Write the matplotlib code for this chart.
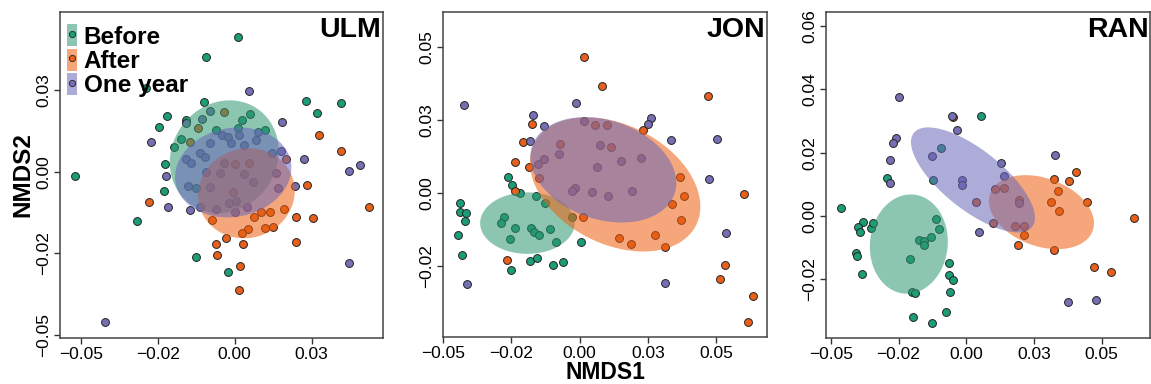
import numpy as np
import matplotlib
matplotlib.use("Agg")
import matplotlib.pyplot as plt
from matplotlib.patches import Patch, Polygon
from matplotlib.lines import Line2D
from matplotlib.legend_handler import HandlerTuple

plt.rcParams['font.family'] = ['Liberation Sans', 'DejaVu Sans']

groups = ["Before", "After", "One year"]
point_colors = ["#1B9E77", "#E8601C", "#7570B3"]
fill_colors = ["#2E9872", "#EE5F0F", "#6A66B8"]

# ---------------- ULM ----------------
ulm_before_x = [0.0011, -0.0092, -0.0290, -0.0101, -0.0220, -0.0246, -0.0159, 0.0024, 0.0049, 0.0097,
                -0.0174, -0.0198, -0.0227, -0.0229, -0.0319, -0.0127, -0.0021, -0.0519, 0.0231, 0.0346,
                0.0267, -0.0062, 0.0012, -0.0127]
ulm_before_y = [0.0413, 0.0352, 0.0258, 0.0214, 0.0170, 0.0138, 0.0160, 0.0160, 0.0177, 0.0128,
                0.0101, 0.0077, 0.0023, -0.0059, -0.0151, -0.0262, -0.0309, -0.0013, 0.0217, 0.0211,
                0.0179, 0.0128, 0.0135, -0.0049]
ulm_after_x = [0.0274, 0.0346, 0.0436, 0.0236, 0.0254, 0.0200, 0.0200, 0.0159, 0.0116, 0.0084,
               0.0062, 0.0097, 0.0124, 0.0043, 0.0024, 0.0027, -0.0027, -0.0062, -0.0057, 0.0018,
               0.0014, -0.0278, -0.0075, 0.0168, -0.0035, -0.0119, -0.0146, 0.0000, 0.0047, -0.0005]
ulm_after_y = [0.0112, 0.0064, -0.0107, -0.0042, -0.0141, -0.0139, -0.0217, -0.0115, -0.0122, -0.0124,
               -0.0138, -0.0173, -0.0170, -0.0177, -0.0187, -0.0221, -0.0203, -0.0221, -0.0255, -0.0288,
               -0.0364, -0.0093, -0.0148, 0.0038, 0.0183, 0.0135, 0.0092, 0.0023, 0.0026, -0.0061]
ulm_year_x = [0.0047, 0.0155, -0.0271, -0.0222, -0.0216, -0.0144, -0.0114, 0.0224, 0.0371, 0.0408,
              0.0371, 0.0197, -0.0422, 0.0152, 0.0135, 0.0142, -0.0081, -0.0105, -0.0157, -0.0043,
              -0.0022, -0.0013, 0.0014, 0.0029, 0.0068, 0.0076, 0.0121, -0.0114, -0.0097, -0.0157,
              -0.0142, -0.0152, -0.0081, -0.0036, -0.0049, -0.0092, 0.0030, 0.0060, -0.0079, -0.0018,
              0.0005, 0.0000, 0.0040, -0.0060]
ulm_year_y = [0.0248, 0.0153, 0.0090, -0.0012, -0.0108, -0.0118, -0.0107, 0.0038, 0.0001, 0.0020,
              -0.0281, -0.0044, -0.0462, 0.0063, -0.0005, -0.0049, 0.0186, 0.0163, 0.0148, 0.0112,
              0.0107, 0.0089, 0.0114, 0.0081, 0.0097, 0.0122, 0.0058, 0.0056, 0.0046, 0.0039,
              0.0026, -0.0044, 0.0087, 0.0028, -0.0005, 0.0000, -0.0008, -0.0031, -0.0048, -0.0097,
              -0.0090, -0.0122, -0.0107, -0.0115]
# ellipses: centre x, centre y, half-extent x, half-extent y, correlation
ulm_ellipses = [(-0.0034, 0.0046, 0.0177, 0.0173, 0.10),
                (0.0038, -0.0066, 0.0157, 0.0138, 0.05),
                (-0.0005, -0.0002, 0.0189, 0.0138, 0.10)]

# ---------------- JON ----------------
jon_before_x = [-0.0262, -0.0246, -0.0219, -0.0158, -0.0127, -0.0436, -0.0439, -0.0417, -0.0421, -0.0445,
                -0.0429, -0.0276, -0.0289, -0.0237, -0.0255, -0.0178, -0.0167, -0.0149, -0.0109, -0.0087,
                -0.0252, -0.0180, -0.0155, -0.0097, -0.0060, 0.0004, -0.0027]
jon_before_y = [0.0055, 0.0028, 0.0000, -0.0009, -0.0034, -0.0034, -0.0063, -0.0068, -0.0094, -0.0144,
                -0.0210, -0.0080, -0.0100, -0.0120, -0.0156, -0.0118, -0.0134, -0.0143, -0.0123, -0.0165,
                -0.0261, -0.0230, -0.0222, -0.0244, -0.0235, -0.0168, -0.0081]
jon_after_x = [0.0016, 0.0083, 0.0469, 0.0231, -0.0176, -0.0207, -0.0237, -0.0185, -0.0237, -0.0265,
               0.0366, 0.0384, 0.0340, 0.0372, 0.0276, 0.0311, 0.0144, 0.0187, 0.0603, 0.0533,
               0.0515, 0.0634, 0.0616, -0.0149, -0.0072, 0.0056, 0.0099, 0.0114, 0.0011]
jon_after_y = [0.0466, 0.0366, 0.0332, 0.0216, 0.0235, 0.0174, 0.0105, 0.0091, 0.0006, -0.0227,
               0.0055, -0.0009, -0.0038, -0.0093, -0.0144, -0.0184, -0.0152, -0.0173, -0.0003, -0.0244,
               -0.0292, -0.0352, -0.0441, 0.0053, 0.0168, 0.0232, 0.0232, 0.0159, -0.0080]
jon_year_x = [-0.0424, -0.0013, -0.0170, -0.0132, -0.0180, 0.0260, 0.0252, 0.0335, 0.0502, 0.0472,
              0.0535, 0.0311, -0.0411, 0.0016, 0.0076, 0.0065, 0.0150, 0.0224, -0.0076, -0.0152,
              -0.0015, -0.0027, 0.0045, 0.0105, 0.0193, -0.0132]
jon_year_y = [0.0303, 0.0309, 0.0267, 0.0231, 0.0180, 0.0256, 0.0235, 0.0182, 0.0185, 0.0048,
              -0.0136, -0.0305, -0.0310, 0.0247, 0.0166, 0.0091, 0.0111, 0.0120, 0.0134, 0.0099,
              0.0017, 0.0006, 0.0003, -0.0009, 0.0009, 0.0116]
jon_ellipses = [(-0.0191, -0.0102, 0.0173, 0.0105, 0.00),
                (0.0130, 0.0030, 0.0312, 0.0229, -0.33),
                (0.0087, 0.0080, 0.0267, 0.0180, -0.25)]

# ---------------- RAN ----------------
ran_before_x = [-0.0464, 0.0055, -0.0294, -0.0380, -0.0399, -0.0393, -0.0353, -0.0344, -0.0407, -0.0402,
                -0.0384, -0.0206, -0.0174, -0.0157, -0.0157, -0.0131, -0.0102, -0.0110, -0.0092, -0.0123,
                -0.0064, -0.0064, -0.0049, -0.0061, -0.0202, -0.0188, -0.0196, -0.0125, -0.0076]
ran_before_y = [0.0024, 0.0316, 0.0119, -0.0018, -0.0034, -0.0052, -0.0037, -0.0021, -0.0118, -0.0128,
                -0.0183, -0.0137, -0.0076, -0.0078, -0.0092, -0.0067, -0.0042, -0.0009, 0.0214, 0.0114,
                -0.0149, -0.0186, -0.0202, -0.0241, -0.0242, -0.0244, -0.0320, -0.0337, -0.0305]
ran_after_x = [0.0407, 0.0378, 0.0325, 0.0340, 0.0313, 0.0344, 0.0448, 0.0620, 0.0325, 0.0190,
               0.0212, 0.0472, 0.0536, 0.0180, 0.0215, 0.0037, 0.0098, 0.0196, 0.0141, 0.0107, -0.0047]
ran_after_y = [0.0138, 0.0111, 0.0116, 0.0080, 0.0043, 0.0017, 0.0043, -0.0005, -0.0107, -0.0092,
               -0.0060, -0.0163, -0.0176, -0.0031, -0.0031, 0.0043, -0.0021, 0.0051, 0.0089, 0.0085, 0.0314]
ran_year_x = [-0.0249, -0.0052, -0.0034, -0.0260, -0.0270, -0.0280, -0.0280, -0.0125, 0.0128, 0.0139,
              -0.0016, -0.0016, 0.0329, 0.0049, 0.0377, 0.0481, 0.0196]
ran_year_y = [0.0377, 0.0316, 0.0272, 0.0247, 0.0232, 0.0177, 0.0105, 0.0191, 0.0168, 0.0126,
              0.0114, 0.0098, 0.0193, -0.0052, -0.0273, -0.0265, 0.0042]
ran_ellipses = [(-0.0212, -0.0089, 0.0144, 0.0157, 0.05),
                (0.0278, 0.0012, 0.0194, 0.0117, -0.30),
                (0.0025, 0.0114, 0.0229, 0.0166, -0.72)]

sites = ["ULM", "JON", "RAN"]
xticks_vals = [[-0.05, -0.025, 0.0, 0.025],
               [-0.05, -0.025, 0.0, 0.025, 0.05],
               [-0.05, -0.025, 0.0, 0.025, 0.05]]
xticks_labels = [["−0.05", "−0.02", "0.00", "0.03"],
                 ["−0.05", "−0.02", "0.00", "0.03", "0.05"],
                 ["−0.05", "−0.02", "0.00", "0.03", "0.05"]]
yticks_vals = [[-0.05, -0.025, 0.0, 0.025],
               [-0.025, 0.0, 0.025, 0.05],
               [-0.02, 0.0, 0.02, 0.04, 0.06]]
yticks_labels = [["−0.05", "−0.02", "0.00", "0.03"],
                 ["−0.02", "0.00", "0.03", "0.05"],
                 ["−0.02", "0.00", "0.02", "0.04", "0.06"]]
xlims = [(-0.0568, 0.0482), (-0.0500, 0.0686), (-0.0518, 0.0679)]
ylims = [(-0.0510, 0.0490), (-0.0491, 0.0619), (-0.0386, 0.0645)]

panel_points = [
    [(ulm_before_x, ulm_before_y), (ulm_after_x, ulm_after_y), (ulm_year_x, ulm_year_y)],
    [(jon_before_x, jon_before_y), (jon_after_x, jon_after_y), (jon_year_x, jon_year_y)],
    [(ran_before_x, ran_before_y), (ran_after_x, ran_after_y), (ran_year_x, ran_year_y)],
]
panel_ellipses = [ulm_ellipses, jon_ellipses, ran_ellipses]

W, H = 1151, 384
fig = plt.figure(figsize=(W / 100, H / 100), dpi=100)
boxes = [(60, 383, 12, 338), (443, 767, 12, 337), (826, 1150, 12, 338)]

t = np.linspace(0, 2 * np.pi, 200)
for i in range(3):
    l, r, tp, b = boxes[i]
    ax = fig.add_axes([l / W, 1 - b / H, (r - l) / W, (b - tp) / H])
    for g in range(3):
        xs, ys = panel_points[i][g]
        ax.scatter(xs, ys, s=32, c=point_colors[g], edgecolors="#222222",
                   linewidths=0.7, zorder=2)
    for g in range(3):
        cx, cy, sx, sy, rho = panel_ellipses[i][g]
        ex = cx + sx * np.cos(t)
        ey = cy + sy * (rho * np.cos(t) + np.sqrt(1 - rho ** 2) * np.sin(t))
        ax.add_patch(Polygon(np.column_stack([ex, ey]), closed=True,
                             facecolor=fill_colors[g], alpha=0.55,
                             edgecolor="none", zorder=3))
    ax.set_xlim(*xlims[i])
    ax.set_ylim(*ylims[i])
    ax.set_xticks(xticks_vals[i])
    ax.set_xticklabels(xticks_labels[i], fontsize=12.5)
    ax.set_yticks(yticks_vals[i])
    ax.set_yticklabels(yticks_labels[i], fontsize=12.5, rotation=90, va="center")
    ax.tick_params(direction="out", length=4, width=1, color="#333333", pad=2.5)
    for sp in ax.spines.values():
        sp.set_color("#444444")
        sp.set_linewidth(1.1)
    ax.text(0.995, 0.985, sites[i], transform=ax.transAxes, ha="right", va="top",
            fontsize=20.5, fontweight="bold", zorder=5)
    if i == 0:
        ax.set_ylabel("NMDS2", fontsize=17.5, fontweight="bold", labelpad=1)
        handles = []
        for g in range(3):
            handles.append((Patch(facecolor=fill_colors[g], alpha=0.55, edgecolor="none"),
                            Line2D([], [], marker="o", linestyle="none", markersize=4.5,
                                   markerfacecolor=point_colors[g],
                                   markeredgecolor="#222222", markeredgewidth=0.6)))
        leg = ax.legend(handles, groups, handler_map={tuple: HandlerTuple(ndivide=1)},
                        loc="upper left", bbox_to_anchor=(0.0, 0.985), frameon=False,
                        handlelength=0.42, handleheight=1.02, labelspacing=0.0,
                        handletextpad=0.25, borderaxespad=0.2, borderpad=0.1,
                        prop={"weight": "bold", "size": 17.5})
        leg.set_zorder(6)
    if i == 1:
        mid = (l + r) / 2 / W
        fig.text(mid, 0.0, "NMDS1", ha="center", va="bottom",
                 fontsize=16.5, fontweight="bold")

fig.savefig("out.png", dpi=100)
